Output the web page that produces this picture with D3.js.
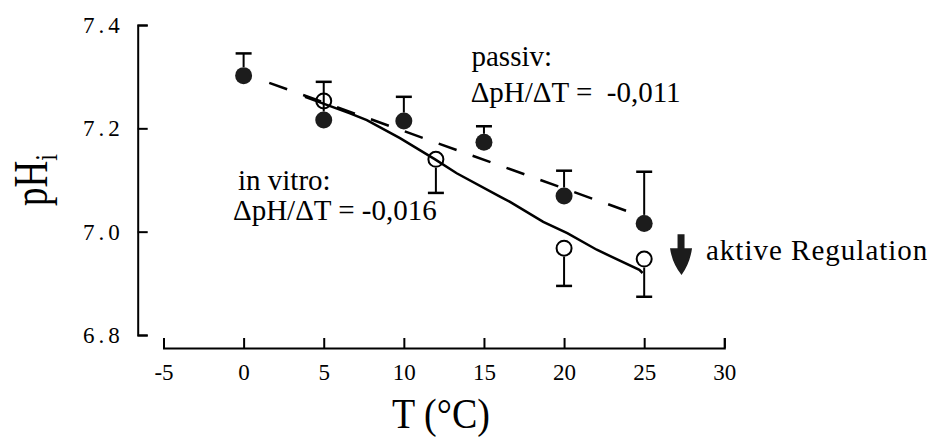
<!DOCTYPE html>
<html>
<head>
<meta charset="utf-8">
<script src="https://cdn.jsdelivr.net/npm/d3@7"></script>
<style>
  body { margin: 0; background: #fff; }
  svg text { font-family: "Liberation Serif", "Times New Roman", serif; }
</style>
</head>
<body>
<svg id="chart" width="927" height="437"></svg>
<script>
// passive (filled circles), error bar goes up
const passT = [0, 5, 10, 15, 20, 25];
const passPH = [7.302, 7.216, 7.214, 7.173, 7.069, 7.016];
const passErrTop = [7.345, 7.290, 7.261, 7.204, 7.118, 7.116];

// in vitro (open circles), error bar goes down
const vitroT = [5, 12, 20, 25];
const vitroPH = [7.253, 7.140, 6.968, 6.947];
const vitroErrBottom = [null, 7.075, 6.895, 6.874];

// fitted lines
const passLine = [[1.6, 7.288], [25, 7.028]];
const vitroLine = [[3.83, 7.261], [6.64, 7.229], [7.69, 7.216], [9.76, 7.181], [11.95, 7.140],
  [13.3, 7.113], [16.0, 7.068], [16.6, 7.058], [18.7, 7.019], [20.2, 6.997], [22.04, 6.965],
  [24.7, 6.926], [24.9, 6.920]];

// arrow "aktive Regulation"
const arrowT = 27.3;
const arrowFrom = 6.995, arrowTo = 6.916;

const xTicks = [-5, 0, 5, 10, 15, 20, 25, 30];
const yTicks = [6.8, 7.0, 7.2, 7.4];

const svg = d3.select("#chart");
const x = d3.scaleLinear().domain([-5, 30]).range([163.5, 724.3]);
const y = d3.scaleLinear().domain([6.8, 7.4]).range([335, 25]);

// axes
const xAxis = svg.append("g")
  .attr("transform", "translate(0,348)")
  .call(d3.axisBottom(x).tickValues(xTicks).tickSize(-10).tickPadding(16).tickFormat(d => String(d)));
const yAxis = svg.append("g")
  .attr("transform", "translate(137.7,0)")
  .call(d3.axisLeft(y).tickValues(yTicks).tickSize(-10).tickPadding(14).tickFormat(d => d.toFixed(1)));

[xAxis, yAxis].forEach(g => {
  g.attr("font-family", "Liberation Serif").attr("font-size", 23);
  g.selectAll("path, line").attr("stroke", "#000").attr("stroke-width", 2);
  g.selectAll("text").attr("fill", "#000");
});
yAxis.selectAll("text").style("letter-spacing", "4px");

// axis titles
svg.append("text")
  .attr("transform", "translate(441,428) scale(1,1.1)")
  .attr("text-anchor", "middle")
  .style("font-size", "38px")
  .text("T (°C)");

const yl = svg.append("text")
  .attr("transform", "translate(47,180) rotate(-90) scale(1,1.3)")
  .attr("text-anchor", "middle")
  .style("font-size", "37px");
yl.append("tspan").text("pH");
yl.append("tspan").attr("dy", 8).style("font-size", "24px").text("i");

// lines
const line = d3.line().x(d => x(d[0])).y(d => y(d[1]));
svg.append("path").datum(passLine).attr("d", line)
  .attr("fill", "none").attr("stroke", "#000").attr("stroke-width", 2.5)
  .attr("stroke-dasharray", "19 17");
svg.append("path").datum(vitroLine).attr("d", line)
  .attr("fill", "none").attr("stroke", "#000").attr("stroke-width", 2.5);

const r = 8.5, capW = 8;

// in vitro error bars + open circles
vitroT.forEach((t, i) => {
  const cx = x(t), cy = y(vitroPH[i]);
  if (vitroErrBottom[i] != null) {
    const ey = y(vitroErrBottom[i]);
    svg.append("line").attr("x1", cx).attr("x2", cx).attr("y1", cy + r).attr("y2", ey)
      .attr("stroke", "#000").attr("stroke-width", 2);
    svg.append("line").attr("x1", cx - capW).attr("x2", cx + capW).attr("y1", ey).attr("y2", ey)
      .attr("stroke", "#000").attr("stroke-width", 2.5);
  }
  svg.append("circle").attr("cx", cx).attr("cy", cy).attr("r", r - 1)
    .attr("fill", "none").attr("stroke", "#000").attr("stroke-width", 2);
});

// passive error bars + filled circles
passT.forEach((t, i) => {
  const cx = x(t), cy = y(passPH[i]);
  const ey = y(passErrTop[i]);
  svg.append("line").attr("x1", cx).attr("x2", cx).attr("y1", cy - r).attr("y2", ey)
    .attr("stroke", "#000").attr("stroke-width", 2);
  svg.append("line").attr("x1", cx - capW).attr("x2", cx + capW).attr("y1", ey).attr("y2", ey)
    .attr("stroke", "#000").attr("stroke-width", 2.5);
  svg.append("circle").attr("cx", cx).attr("cy", cy).attr("r", r)
    .attr("fill", "#1c1c1c");
});

// arrow
const ax = x(arrowT), ay0 = y(arrowFrom), ay1 = y(arrowTo);
const headTop = ay0 + 14;
svg.append("path")
  .attr("d", `M${ax - 3.5},${ay0} L${ax + 3.5},${ay0} L${ax + 3.5},${headTop} L${ax + 11},${headTop}
    Q${ax + 9},${ay1 - 12} ${ax + 0.5},${ay1} Q${ax - 9},${ay1 - 12} ${ax - 11},${headTop}
    L${ax - 3.5},${headTop} Z`)
  .attr("fill", "#1c1c1c");

// annotations
const notes = [
  { t: "passiv:", px: 471.5, py: 66, ls: 0 },
  { t: "ΔpH/ΔT =  -0,011", px: 470.7, py: 101.7, ls: 0 },
  { t: "in vitro:", px: 238, py: 190, ls: 0 },
  { t: "ΔpH/ΔT = -0,016", px: 233, py: 220, ls: 0 },
  { t: "aktive Regulation", px: 706, py: 260, ls: 1 }
];
svg.selectAll("text.note").data(notes).join("text")
  .attr("class", "note")
  .attr("x", d => d.px).attr("y", d => d.py)
  .style("font-size", "29px")
  .style("letter-spacing", d => d.ls + "px")
  .style("white-space", "pre")
  .text(d => d.t);
</script>
</body>
</html>
